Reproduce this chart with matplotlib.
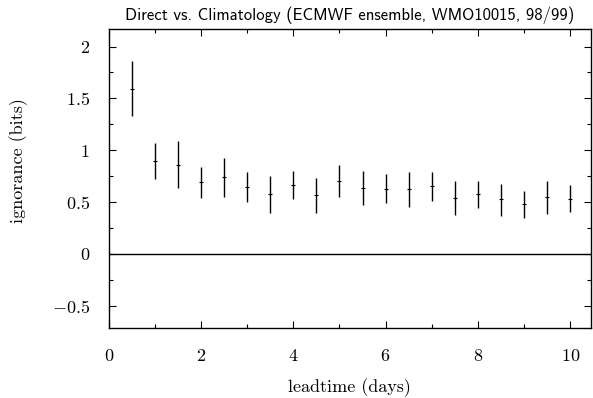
import matplotlib
matplotlib.use("Agg")
from matplotlib import pyplot as plt
from matplotlib.ticker import MultipleLocator, FuncFormatter
import numpy as np

# leadtime (days) and ignorance (bits): centre, lower and upper ends of the bars
leadtime = [0.5, 1.0, 1.5, 2.0, 2.5, 3.0, 3.5, 4.0, 4.5, 5.0,
            5.5, 6.0, 6.5, 7.0, 7.5, 8.0, 8.5, 9.0, 9.5, 10.0]
ign_mid = [1.593, 0.897, 0.859, 0.689, 0.737, 0.647, 0.577, 0.663, 0.567, 0.705,
           0.635, 0.628, 0.622, 0.651, 0.538, 0.574, 0.526, 0.481, 0.545, 0.532]
ign_low = [1.327, 0.718, 0.632, 0.542, 0.551, 0.497, 0.397, 0.526, 0.394, 0.552,
           0.468, 0.490, 0.452, 0.510, 0.378, 0.439, 0.368, 0.346, 0.381, 0.404]
ign_high = [1.859, 1.074, 1.090, 0.840, 0.920, 0.792, 0.753, 0.801, 0.734, 0.860,
            0.801, 0.769, 0.788, 0.792, 0.699, 0.699, 0.676, 0.606, 0.702, 0.663]

plt.rcParams['font.family'] = 'serif'
plt.rcParams['font.serif'] = ['cmr10']
plt.rcParams['mathtext.fontset'] = 'cm'
plt.rcParams['axes.formatter.use_mathtext'] = True
plt.rcParams['axes.unicode_minus'] = True

font = 13

fig = plt.figure(figsize=(5.93, 3.98), dpi=100)
ax = fig.add_axes([108.7/593, 1 - 328.3/398, (591 - 108.7)/593, (328.3 - 29)/398])

mid = np.array(ign_mid)
yerr = [mid - np.array(ign_low), np.array(ign_high) - mid]
ax.errorbar(leadtime, mid, yerr=yerr, fmt='_', color='black', ecolor='black',
            elinewidth=1.0, markersize=2.5, markeredgewidth=0.8, capsize=0)
ax.axhline(0, color='black', linewidth=1.0)

def fmt(v, pos):
    return '$%g$' % v

ax.set_xlim(0, 10.45)
ax.set_ylim(-0.72, 2.17)
ax.xaxis.set_major_locator(MultipleLocator(2))
ax.xaxis.set_minor_locator(MultipleLocator(1))
ax.yaxis.set_major_locator(MultipleLocator(0.5))
ax.yaxis.set_minor_locator(MultipleLocator(0.25))
ax.xaxis.set_major_formatter(FuncFormatter(fmt))
ax.yaxis.set_major_formatter(FuncFormatter(fmt))
ax.tick_params(which='both', direction='in', top=True, right=True, labelsize=font, width=0.8)
ax.tick_params(which='major', length=5)
ax.tick_params(which='minor', length=3)
ax.tick_params(axis='x', pad=14.3)
ax.tick_params(axis='y', pad=13.5)
for s in ax.spines.values():
    s.set_linewidth(1.0)

ax.set_xlabel('leadtime (days)', fontsize=font)
ax.set_ylabel('ignorance (bits)', fontsize=font)
ax.xaxis.set_label_coords(0.5, -0.166)
ax.yaxis.set_label_coords(-0.167, 0.562)
ax.set_title('Direct vs. Climatology (ECMWF ensemble, WMO10015, 98/99)',
             fontsize=12, family='cmss10', pad=6.5)

fig.savefig('out.png', dpi=100)
